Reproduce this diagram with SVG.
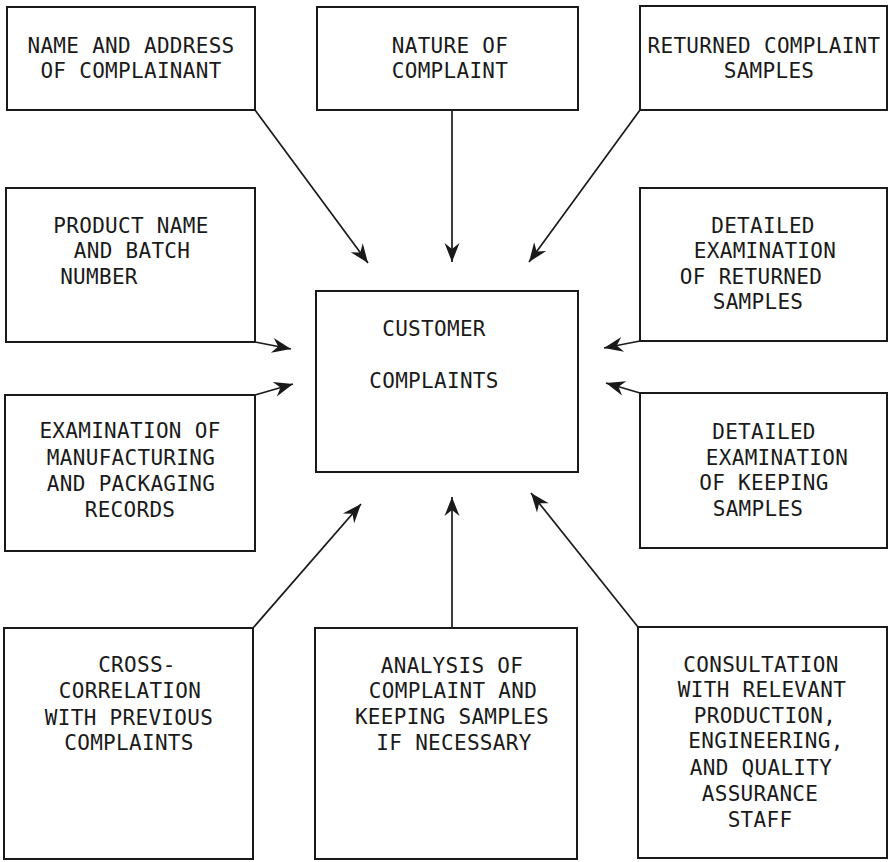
<svg xmlns="http://www.w3.org/2000/svg" width="891" height="862" viewBox="0 0 891 862">
  <style>
    .box { fill: #ffffff; stroke: #1a1a1a; stroke-width: 2; }
    .lbl { font-family: "DejaVu Sans Mono", "Liberation Mono", monospace; font-size: 21px; fill: #1a1a1a; text-anchor: middle; letter-spacing: 0.3px; }
    .conn { stroke: #1a1a1a; stroke-width: 1.7; fill: none; marker-end: url(#head); }
  </style>
  <defs>
    <marker id="head" markerUnits="userSpaceOnUse" viewBox="-21 -8 22 16" refX="0" refY="0" markerWidth="22" markerHeight="16" orient="auto">
      <path d="M0,0 L-19,-7.5 L-13,0 L-19,7.5 Z" fill="#1a1a1a"/>
    </marker>
  </defs>
  <rect width="891" height="862" fill="#ffffff"/>

  <!-- connectors: every source feeds into the central box -->
  <g id="connectors">
    <line class="conn" x1="255" y1="110" x2="368" y2="263"/>
    <line class="conn" x1="452" y1="110" x2="452" y2="262"/>
    <line class="conn" x1="640" y1="110" x2="529" y2="262"/>
    <line class="conn" x1="255" y1="342" x2="291" y2="349"/>
    <line class="conn" x1="255" y1="395" x2="293" y2="384"/>
    <line class="conn" x1="640" y1="341" x2="604" y2="348"/>
    <line class="conn" x1="640" y1="393" x2="606" y2="383"/>
    <line class="conn" x1="253" y1="628" x2="361" y2="504"/>
    <line class="conn" x1="452" y1="628" x2="452" y2="497"/>
    <line class="conn" x1="638" y1="627" x2="531" y2="493"/>
  </g>

  <g id="customer-complaints">
    <rect class="box" x="316" y="291" width="262" height="181"/>
    <text class="lbl" x="434" y="336">CUSTOMER</text>
    <text class="lbl" x="434" y="388">COMPLAINTS</text>
  </g>

  <g id="name-address">
    <rect class="box" x="7" y="7" width="248" height="103"/>
    <text class="lbl" x="131" y="53">NAME AND ADDRESS</text>
    <text class="lbl" x="131" y="78">OF COMPLAINANT</text>
  </g>

  <g id="nature">
    <rect class="box" x="317" y="7" width="261" height="103"/>
    <text class="lbl" x="450" y="53">NATURE OF</text>
    <text class="lbl" x="450" y="78">COMPLAINT</text>
  </g>

  <g id="returned-samples">
    <rect class="box" x="640" y="6" width="247" height="104"/>
    <text class="lbl" x="764" y="53">RETURNED COMPLAINT</text>
    <text class="lbl" x="769" y="78">SAMPLES</text>
  </g>

  <g id="product-batch">
    <rect class="box" x="6" y="188" width="249" height="154"/>
    <text class="lbl" x="131" y="233">PRODUCT NAME</text>
    <text class="lbl" x="132" y="258">AND BATCH</text>
    <text class="lbl" x="99" y="284">NUMBER</text>
  </g>

  <g id="returned-exam">
    <rect class="box" x="640" y="188" width="247" height="153"/>
    <text class="lbl" x="763" y="233">DETAILED</text>
    <text class="lbl" x="765" y="258">EXAMINATION</text>
    <text class="lbl" x="751" y="284">OF RETURNED</text>
    <text class="lbl" x="758" y="309">SAMPLES</text>
  </g>

  <g id="records-exam">
    <rect class="box" x="5" y="395" width="250" height="156"/>
    <text class="lbl" x="130" y="438">EXAMINATION OF</text>
    <text class="lbl" x="131" y="465">MANUFACTURING</text>
    <text class="lbl" x="131" y="491">AND PACKAGING</text>
    <text class="lbl" x="130" y="517">RECORDS</text>
  </g>

  <g id="keeping-exam">
    <rect class="box" x="640" y="393" width="247" height="155"/>
    <text class="lbl" x="764" y="439">DETAILED</text>
    <text class="lbl" x="777" y="465">EXAMINATION</text>
    <text class="lbl" x="764" y="490">OF KEEPING</text>
    <text class="lbl" x="758" y="516">SAMPLES</text>
  </g>

  <g id="cross-correlation">
    <rect class="box" x="4" y="628" width="249" height="231"/>
    <text class="lbl" x="137" y="672">CROSS-</text>
    <text class="lbl" x="130" y="698">CORRELATION</text>
    <text class="lbl" x="129" y="725">WITH PREVIOUS</text>
    <text class="lbl" x="129" y="750">COMPLAINTS</text>
  </g>

  <g id="analysis">
    <rect class="box" x="315" y="628" width="262" height="231"/>
    <text class="lbl" x="452" y="673">ANALYSIS OF</text>
    <text class="lbl" x="453" y="698">COMPLAINT AND</text>
    <text class="lbl" x="452" y="724">KEEPING SAMPLES</text>
    <text class="lbl" x="454" y="750">IF NECESSARY</text>
  </g>

  <g id="consultation">
    <rect class="box" x="638" y="627" width="249" height="231"/>
    <text class="lbl" x="761" y="672">CONSULTATION</text>
    <text class="lbl" x="762" y="697">WITH RELEVANT</text>
    <text class="lbl" x="765" y="723">PRODUCTION,</text>
    <text class="lbl" x="766" y="748">ENGINEERING,</text>
    <text class="lbl" x="761" y="775">AND QUALITY</text>
    <text class="lbl" x="760" y="801">ASSURANCE</text>
    <text class="lbl" x="760" y="827">STAFF</text>
  </g>
</svg>
